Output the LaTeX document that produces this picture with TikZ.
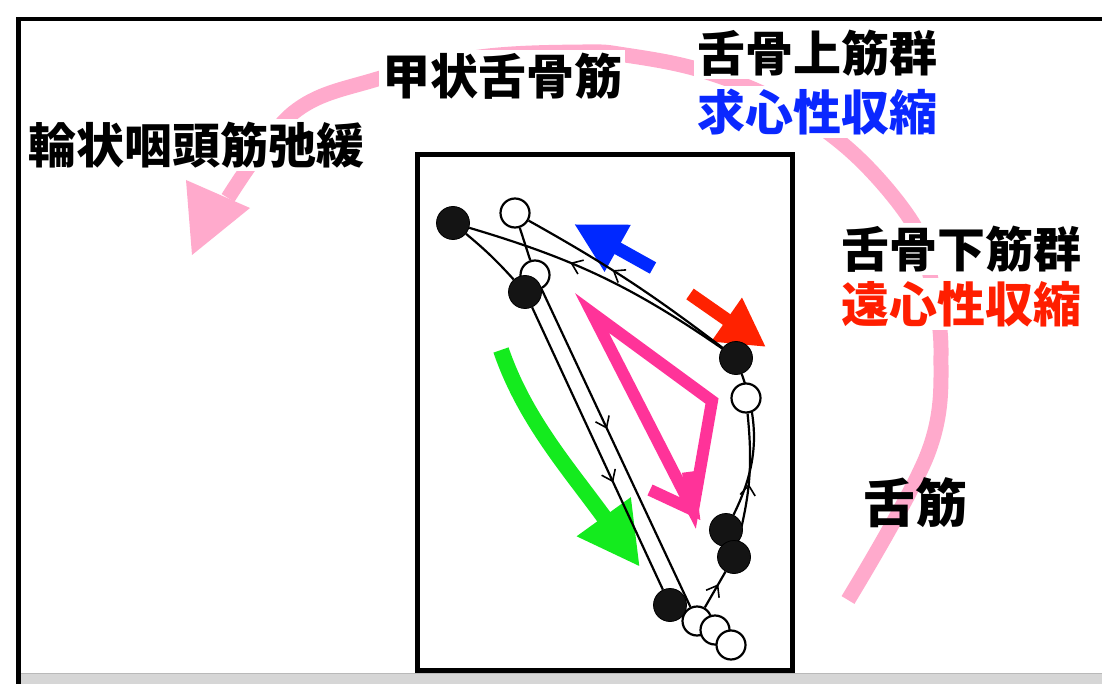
\documentclass[tikz,border=0pt]{standalone}
\usepackage{fontspec}
\newfontfamily\jpfont{Noto Sans CJK JP}
\usetikzlibrary{arrows.meta,decorations.markings}
\pgfdeclarelayer{links}
\pgfdeclarelayer{joints}
\pgfsetlayers{main,links,joints}
\definecolor{arcpink}{RGB}{255,170,204}
\definecolor{tripink}{RGB}{255,51,153}
\definecolor{arrowblue}{RGB}{0,40,255}
\definecolor{arrowred}{RGB}{255,34,0}
\definecolor{arrowgreen}{RGB}{20,235,30}
\definecolor{textblue}{RGB}{10,40,255}
\definecolor{textred}{RGB}{255,30,0}
\definecolor{bandgray}{RGB}{214,214,214}
\begin{document}
\begin{tikzpicture}[x=1pt,y=-1pt,
  lbl/.style={font=\jpfont\bfseries\fontsize{48}{50}\selectfont, inner sep=3pt},
  lblbox/.style={lbl, fill=white},
  link/.style={line width=2.2pt, black},
  bj/.style={circle, fill=black!92, draw=black, line width=0.8pt, minimum size=33pt, inner sep=0pt},
  wj/.style={circle, fill=white, draw=black, line width=2.2pt, minimum size=29pt, inner sep=0pt},
  chev/.style={postaction={decorate, decoration={markings,
      mark=at position #1 with {\arrow{Straight Barb[length=10pt,width=15pt,line width=1.6pt]}}}}},
  chevrev/.style={postaction={decorate, decoration={markings,
      mark=at position #1 with {\arrowreversed{Straight Barb[length=10pt,width=15pt,line width=1.6pt]}}}}},
  fat/.style={line width=#1, line cap=butt}
]
\useasboundingbox (0,0) rectangle (1102,684);

% page frame and bottom band
\fill[bandgray] (21,673) rectangle (1102,684);
\draw[gray!55, line width=1pt] (21,673.5) -- (1102,673.5);
\draw[line width=4.5pt, line join=miter] (18.5,684) -- (18.5,19) -- (1102,19);

% large circulating arrow
\draw[arcpink, fat=15pt] plot[smooth, tension=0.6] coordinates
  {(848,600) (928,453) (941,353) (930,275) (912,222) (853,153) (780,102)
   (700,70) (625,55) (583,52) (480,57) (374,80) (293,113) (228,198)};
\fill[arcpink] (192,255) -- (186,180) -- (250,208) -- cycle;

% labels
\node[lblbox] (ringrelax) at (196,145) {輪状咽頭筋弛緩};
\node[lblbox] (thyro) at (502,76) {甲状舌骨筋};
\node[lblbox] (supra) at (817,53) {舌骨上筋群};
\node[lblbox, text=textblue] (concentric) at (817,112) {求心性収縮};
\node[lblbox] (infra) at (961,249) {舌骨下筋群};
\node[lblbox, text=textred] (eccentric) at (961,304) {遠心性収縮};
\node[lbl, font=\jpfont\bfseries\fontsize{52}{54}\selectfont] (tongue) at (915,503) {舌筋};

% inner frame
\draw[line width=5pt] (417.5,154.5) rectangle (792.5,670.5);

% coloured movement arrows
\draw[tripink, line width=12pt, line join=miter] (712,401) -- (592,313) -- (693,510) -- cycle;
\draw[tripink, line width=12pt, line join=miter] (650,490) -- (693,510) -- (688,472);
\draw[arrowgreen, fat=16pt, -{Triangle[length=62pt,width=62pt]}]
  (501,350) .. controls (525,420) and (570,470) .. (640,567);
\draw[arrowblue, fat=13pt, -{Triangle[length=50pt,width=50pt]}] (653,268) -- (574,224);
\draw[arrowred, fat=13pt, -{Triangle[length=48pt,width=50pt]}] (690,294) -- (766,347);

% joints
\begin{pgfonlayer}{joints}
\node[wj] (B) at (515,213) {};
\node[wj] (C) at (535,275) {};
\node[wj] (F) at (746,398) {};
\node[wj] (J) at (697,621) {};
\node[wj] (K) at (715,630) {};
\node[wj] (L) at (731,645) {};
\node[bj] (A) at (453,223) {};
\node[bj] (D) at (525,292) {};
\node[bj] (E) at (736,358) {};
\node[bj] (G) at (726,530) {};
\node[bj] (H) at (734,557) {};
\node[bj] (I) at (670,605) {};
\end{pgfonlayer}

% links between joints
\begin{pgfonlayer}{links}
\draw[link] (A) to[bend left=4] (D);
\draw[link] (B) -- (C);
\draw[link, chevrev=0.38] (A) to[bend left=9] (E);
\draw[link, chevrev=0.42] (B) to[bend left=4] (E);
\draw[link, chev=0.62] (D) -- (I);
\draw[link, chev=0.44] (C) -- (J);
\draw[link] (E) to[bend left=23] (G);
\draw[link, chevrev=0.55] (F) to[bend left=10] (H);
\draw[link, chevrev=0.35] (H) -- (J);
\end{pgfonlayer}
\end{tikzpicture}
\end{document}
